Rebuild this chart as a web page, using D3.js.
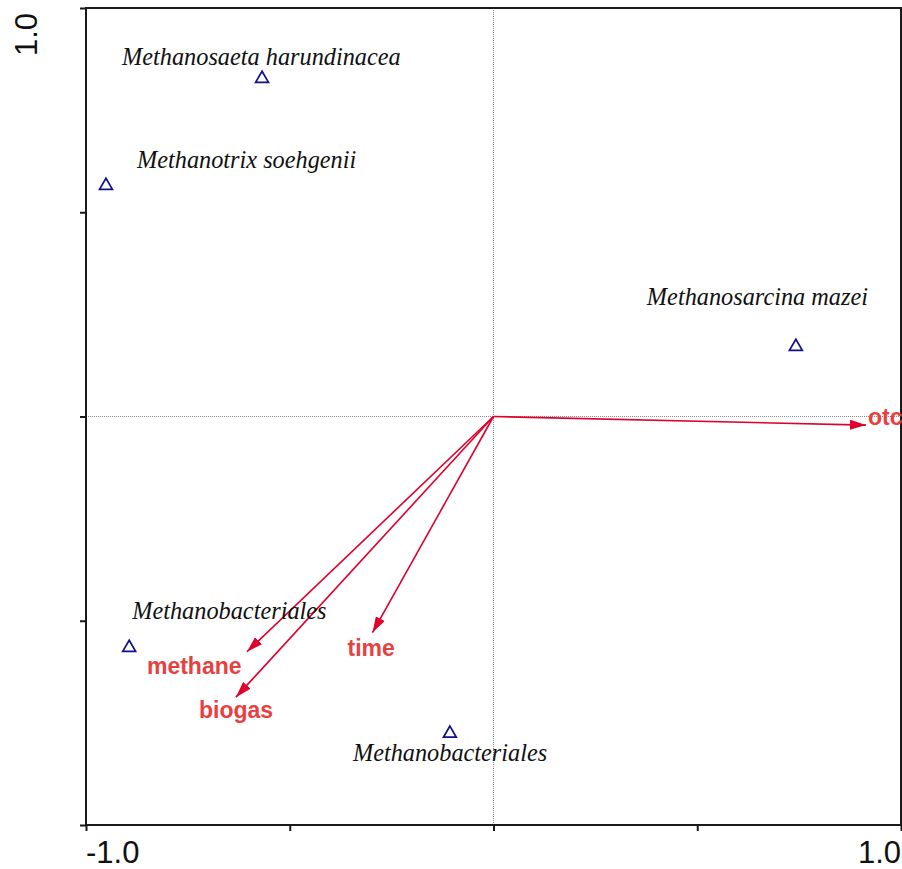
<!DOCTYPE html>
<html lang="en">
<head>
    <meta charset="UTF-8">
    <title>ordination biplot</title>
    <script src="https://cdn.jsdelivr.net/npm/d3@7/dist/d3.min.js"></script>
    <style>
        body { margin: 0; background: #fff; }
    </style>
</head>
<body>

<script>

    var width = 902;
    var height = 869;

    // species scores (triangles)
    var speciesNames = ["Methanosaeta harundinacea", "Methanotrix soehgenii", "Methanosarcina mazei",
        "Methanobacteriales", "Methanobacteriales"];
    var speciesX = [-0.568, -0.951, 0.742, -0.894, -0.107];
    var speciesY = [0.827, 0.565, 0.171, -0.566, -0.776];

    // environmental variables (arrows)
    var envNames = ["otc", "methane", "biogas", "time"];
    var envX = [0.914, -0.605, -0.632, -0.297];
    var envY = [-0.021, -0.576, -0.687, -0.529];

    var tickValues = [-1, -0.5, 0, 0.5, 1];

    // label offsets in pixels from the point / arrow tip
    var speciesLabelOffset = [[-140, -14], [31, -18], [-149, -42], [3, -29], [-97, 28]];
    var envLabelOffset = [[2, 0], [-100, 22], [-37, 21], [-25, 23]];

    var xScale = d3.scaleLinear()
        .domain([-1, 1])
        .range([86, 901]);

    var yScale = d3.scaleLinear()
        .domain([-1, 1])
        .range([825, 8]);

    var svg = d3.select("body").append("svg")
        .attr("width", width)
        .attr("height", height);

    // centre lines
    svg.append("line")
        .attr("x1", xScale(-1)).attr("x2", xScale(1))
        .attr("y1", yScale(0)).attr("y2", yScale(0))
        .attr("stroke", "#8a8a8a")
        .attr("stroke-width", 1)
        .attr("stroke-dasharray", "1,1");
    svg.append("line")
        .attr("x1", xScale(0)).attr("x2", xScale(0))
        .attr("y1", yScale(1)).attr("y2", yScale(-1))
        .attr("stroke", "#8a8a8a")
        .attr("stroke-width", 1)
        .attr("stroke-dasharray", "1,1");

    // frame
    svg.append("rect")
        .attr("x", xScale(-1)).attr("y", yScale(1))
        .attr("width", xScale(1) - xScale(-1))
        .attr("height", yScale(-1) - yScale(1))
        .attr("fill", "none")
        .attr("stroke", "#1a1a1a")
        .attr("stroke-width", 2);

    var xAxis = d3.axisBottom(xScale)
        .tickValues(tickValues)
        .tickSize(6)
        .tickFormat("");
    var yAxis = d3.axisLeft(yScale)
        .tickValues(tickValues)
        .tickSize(6)
        .tickFormat("");

    var xGroup = svg.append("g")
        .attr("transform", "translate(0," + yScale(-1) + ")")
        .call(xAxis);
    var yGroup = svg.append("g")
        .attr("transform", "translate(" + xScale(-1) + ",0)")
        .call(yAxis);
    svg.selectAll(".domain").remove();
    svg.selectAll(".tick line")
        .attr("stroke", "#1a1a1a")
        .attr("stroke-width", 2);

    // axis end labels
    svg.append("text")
        .attr("x", xScale(-1))
        .attr("y", 863)
        .attr("text-anchor", "start")
        .attr("font-family", "Liberation Sans, Arial, sans-serif")
        .attr("font-size", 31)
        .attr("fill", "#111")
        .text("-1.0");
    svg.append("text")
        .attr("x", xScale(1))
        .attr("y", 863)
        .attr("text-anchor", "end")
        .attr("font-family", "Liberation Sans, Arial, sans-serif")
        .attr("font-size", 31)
        .attr("fill", "#111")
        .text("1.0");
    svg.append("text")
        .attr("transform", "translate(37," + (yScale(1) + 5) + ") rotate(-90)")
        .attr("text-anchor", "end")
        .attr("font-family", "Liberation Sans, Arial, sans-serif")
        .attr("font-size", 31)
        .attr("fill", "#111")
        .text("1.0");

    // arrowhead
    svg.append("defs").append("marker")
        .attr("id", "head")
        .attr("viewBox", "0 0 16 10")
        .attr("refX", 16)
        .attr("refY", 5)
        .attr("markerWidth", 16)
        .attr("markerHeight", 10)
        .attr("markerUnits", "userSpaceOnUse")
        .attr("orient", "auto")
        .append("path")
        .attr("d", "M0,0 L16,5 L0,10 Z")
        .attr("fill", "#e0002b");

    var envIdx = d3.range(envNames.length);

    svg.selectAll(".arrow")
        .data(envIdx)
        .enter().append("line")
        .attr("class", "arrow")
        .attr("x1", xScale(0))
        .attr("y1", yScale(0))
        .attr("x2", function (i) { return xScale(envX[i]); })
        .attr("y2", function (i) { return yScale(envY[i]); })
        .attr("stroke", "#e0002b")
        .attr("stroke-width", 1.6)
        .attr("marker-end", "url(#head)");

    svg.selectAll(".envlabel")
        .data(envIdx)
        .enter().append("text")
        .attr("class", "envlabel")
        .attr("x", function (i) { return xScale(envX[i]) + envLabelOffset[i][0]; })
        .attr("y", function (i) { return yScale(envY[i]) + envLabelOffset[i][1]; })
        .attr("font-family", "Liberation Sans, Arial, sans-serif")
        .attr("font-weight", "bold")
        .attr("font-size", 23)
        .attr("fill", "#e8403f")
        .text(function (i) { return envNames[i]; });

    // species
    var spIdx = d3.range(speciesNames.length);
    var tri = d3.symbol().type(d3.symbolTriangle).size(72);

    svg.selectAll(".sp")
        .data(spIdx)
        .enter().append("path")
        .attr("class", "sp")
        .attr("d", tri)
        .attr("transform", function (i) {
            return "translate(" + xScale(speciesX[i]) + "," + yScale(speciesY[i]) + ")";
        })
        .attr("fill", "none")
        .attr("stroke", "#10108a")
        .attr("stroke-width", 1.7);

    svg.selectAll(".splabel")
        .data(spIdx)
        .enter().append("text")
        .attr("class", "splabel")
        .attr("x", function (i) { return xScale(speciesX[i]) + speciesLabelOffset[i][0]; })
        .attr("y", function (i) { return yScale(speciesY[i]) + speciesLabelOffset[i][1]; })
        .attr("font-family", "Liberation Serif, Times New Roman, serif")
        .attr("font-style", "italic")
        .attr("font-size", 24.3)
        .attr("fill", "#111")
        .text(function (i) { return speciesNames[i]; });

</script>
</body>
</html>
